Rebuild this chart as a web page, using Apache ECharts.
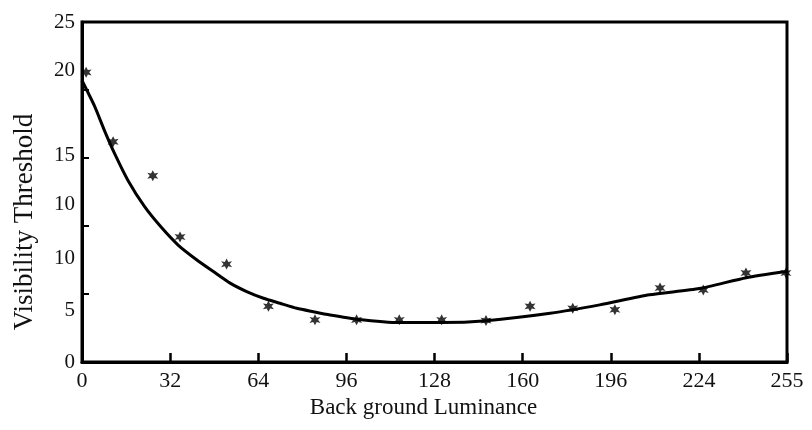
<!DOCTYPE html>
<html>
<head>
<meta charset="utf-8">
<script src="https://cdn.jsdelivr.net/npm/echarts@6/dist/echarts.min.js"></script>
<style>
html,body{margin:0;padding:0;background:#fff;}
#chart{width:812px;height:430px;}
</style>
</head>
<body>
<div id="chart"></div>
<script>
// Tick labels as printed in the figure
var xTickLabels = ['0', '32', '64', '96', '128', '160', '196', '224', '255'];
var yTickLabels = ['0', '5', '10', '10', '15', '20', '25'];
// where the (misaligned) y labels sit, in data units
var yLabelAt = [0, 3.8, 7.6, 11.6, 15.2, 21.4, 25];
var yTickAt = [5, 10, 15, 20];

// measured points (background luminance, visibility threshold)
var pointX = [1.5, 11.3, 25.7, 35.6, 52.5, 67.7, 84.6, 99.7, 115.2, 130.6, 146.7, 162.7, 178.2, 193.5, 209.9, 225.6, 241.1, 255.6];
var pointY = [21.3, 16.2, 13.7, 9.2, 7.2, 4.1, 3.1, 3.1, 3.1, 3.1, 3.05, 4.1, 3.95, 3.85, 5.45, 5.3, 6.55, 6.55];

// fitted curve
var curveX = [0, 4.6, 8.2, 11.9, 16.7, 22.8, 28.8, 34.9, 41.6, 47.7, 53.8, 59.8, 65.9, 71.9, 78, 84, 90.1, 99.7, 115.4, 130.6, 146.9, 170, 188, 206, 224.2, 241.2, 255.8];
var curveY = [20.7, 18.8, 17.0, 15.3, 13.35, 11.4, 9.9, 8.6, 7.52, 6.65, 5.8, 5.18, 4.69, 4.32, 3.95, 3.7, 3.46, 3.15, 2.9, 2.9, 3.04, 3.58, 4.2, 4.94, 5.4, 6.2, 6.65];

function zip(a, b) { return a.map(function (v, i) { return [v, b[i]]; }); }

var FONT = '"Liberation Serif", "DejaVu Serif", serif';
var chart = echarts.init(document.getElementById('chart'));
chart.setOption({
  animation: false,
  backgroundColor: '#fff',
  grid: { left: 82, right: 25, top: 22, bottom: 68, show: true, borderColor: '#000', borderWidth: 3, backgroundColor: 'transparent' },
  xAxis: {
    type: 'value', min: 0, max: 256, interval: 32,
    name: 'Back ground Luminance', nameLocation: 'middle', nameGap: 31,
    nameTextStyle: { fontFamily: FONT, fontSize: 23, color: '#111', padding: [0, 22, 0, 0] },
    axisLine: { show: true, lineStyle: { color: '#000', width: 3 } },
    axisTick: { show: true, inside: true, length: 9, lineStyle: { color: '#000', width: 2.5 } },
    axisLabel: {
      margin: 8, fontFamily: FONT, fontSize: 22, color: '#111',
      formatter: function (v) { return xTickLabels[Math.round(v / 32)]; }
    },
    splitLine: { show: false }
  },
  yAxis: {
    type: 'value', min: 0, max: 25,
    name: 'Visibility Threshold', nameLocation: 'middle', nameGap: 44,
    nameTextStyle: { fontFamily: FONT, fontSize: 27, color: '#111', padding: [0, 60, 0, 0] },
    axisLine: { show: true, lineStyle: { color: '#000', width: 3 } },
    axisTick: { show: true, inside: true, length: 7, customValues: yTickAt, lineStyle: { color: '#000', width: 2 } },
    axisLabel: {
      margin: 7, fontFamily: FONT, fontSize: 21, color: '#111',
      customValues: yLabelAt,
      formatter: function (v) {
        var best = 0;
        for (var i = 0; i < yLabelAt.length; i++) {
          if (Math.abs(yLabelAt[i] - v) < Math.abs(yLabelAt[best] - v)) best = i;
        }
        return yTickLabels[best];
      }
    },
    splitLine: { show: false }
  },
  series: [
    {
      type: 'line', data: zip(curveX, curveY), smooth: 0.2, showSymbol: false,
      lineStyle: { color: '#000', width: 3 }, z: 2
    },
    {
      type: 'scatter', data: zip(pointX, pointY),
      symbol: 'path://M5,0 L6.6,3 L10,2.4 L7.8,5 L10,7.8 L6.6,7 L5,10 L3.4,7 L0,7.8 L2.2,5 L0,2.4 L3.4,3 Z',
      symbolSize: 11, itemStyle: { color: '#000' }, z: 3
    }
  ]
});
</script>
</body>
</html>
